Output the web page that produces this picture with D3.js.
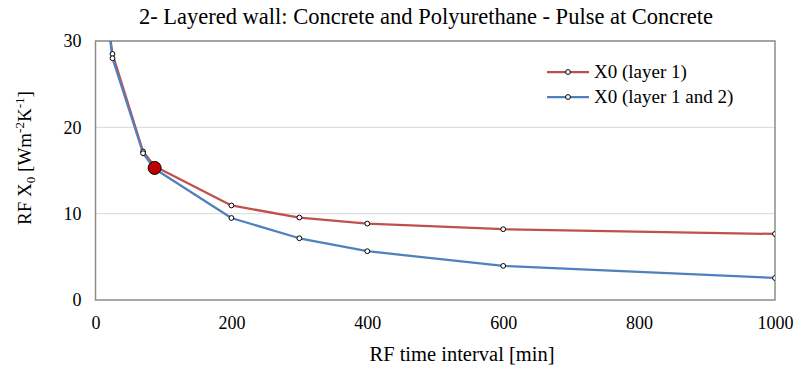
<!DOCTYPE html>
<html><head><meta charset="utf-8">
<script src="https://cdn.jsdelivr.net/npm/d3@7"></script>
<style>body{margin:0;background:#fff}svg{display:block}</style>
</head><body><svg id="c" width="795" height="369" font-family="Liberation Serif, Times New Roman, serif"></svg>
<script>
const title = "2- Layered wall: Concrete and Polyurethane - Pulse at Concrete";
const xLabel = "RF time interval [min]";
const xTicks = [0, 200, 400, 600, 800, 1000];
const yTicks = [0, 10, 20, 30];
const seriesNames = ["X0 (layer 1)", "X0 (layer 1 and 2)"];
const seriesColors = ["#C0504D", "#4F81BD"];
const xLayer1 = [10, 25, 70, 87, 200, 300, 400, 600, 1000];
const yLayer1 = [37, 28.5, 17.2, 15.5, 10.95, 9.55, 8.85, 8.2, 7.65];
const xLayer12 = [10, 25, 70, 87, 200, 300, 400, 600, 1000];
const yLayer12 = [37.5, 28.0, 17.0, 15.2, 9.5, 7.15, 5.65, 3.95, 2.55];
const highlightX = [87];
const highlightY = [15.3];
const FONT = "Liberation Serif, Times New Roman, serif";

const svg = d3.select("#c");
const L = 95.5, R = 775, T = 41, B = 300;
const x = d3.scaleLinear().domain([0, 1000]).range([L, R]);
const y = d3.scaleLinear().domain([0, 30]).range([B, T]);

svg.append("defs").append("clipPath").attr("id","clip").append("rect")
  .attr("x", L).attr("y", T).attr("width", R - L).attr("height", B - T);

svg.append("g").selectAll("line").data(yTicks.filter(d => d > 0)).join("line")
  .attr("x1", L).attr("x2", R).attr("y1", d => y(d)).attr("y2", d => y(d))
  .attr("stroke", "#d9d9d9").attr("stroke-width", 1);

svg.append("rect").attr("x", L).attr("y", T).attr("width", R - L).attr("height", B - T)
  .attr("fill", "none").attr("stroke", "#8c8c8c").attr("stroke-width", 1.5);

const xa = svg.append("g").attr("transform", `translate(0,${B})`)
  .call(d3.axisBottom(x).tickValues(xTicks).tickFormat(d3.format("d")).tickSize(0).tickPadding(16));
xa.select(".domain").remove();
xa.attr("font-family", FONT).attr("font-size", 18);
xa.selectAll("text").attr("fill", "#000");
const ya = svg.append("g").attr("transform", `translate(${L},0)`)
  .call(d3.axisLeft(y).tickValues(yTicks).tickFormat(d3.format("d")).tickSize(0).tickPadding(14));
ya.select(".domain").remove();
ya.attr("font-family", FONT).attr("font-size", 18);
ya.selectAll("text").attr("fill", "#000");

const series = [
  {xs: xLayer1, ys: yLayer1},
  {xs: xLayer12, ys: yLayer12}
];
const line = d3.line().x(d => x(d[0])).y(d => y(d[1]));
const g = svg.append("g").attr("clip-path", "url(#clip)");
series.forEach((s, i) => {
  const pts = s.xs.map((v, k) => [v, s.ys[k]]);
  g.append("path").datum(pts).attr("d", line).attr("fill", "none")
    .attr("stroke", seriesColors[i]).attr("stroke-width", 2.25).attr("stroke-linejoin", "round");
});
series.forEach((s, i) => {
  const pts = s.xs.map((v, k) => [v, s.ys[k]]).filter(d => d[1] <= 30);
  g.selectAll(null).data(pts).join("circle")
    .attr("cx", d => x(d[0])).attr("cy", d => y(d[1])).attr("r", 2.4)
    .attr("fill", "#fff").attr("stroke", "#000").attr("stroke-width", 1);
});
svg.selectAll(null).data(highlightX.map((v, k) => [v, highlightY[k]])).join("circle")
  .attr("cx", d => x(d[0])).attr("cy", d => y(d[1])).attr("r", 6.5)
  .attr("fill", "#C00000").attr("stroke", "#000").attr("stroke-width", 1);

svg.append("text").attr("x", 426).attr("y", 24).attr("text-anchor", "middle")
  .attr("font-family", FONT).attr("font-size", 22.5).text(title);
svg.append("text").attr("x", 462).attr("y", 361).attr("text-anchor", "middle")
  .attr("font-family", FONT).attr("font-size", 20.5).text(xLabel);
const yl = svg.append("text").attr("transform", "translate(31,158) rotate(-90)")
  .attr("text-anchor", "middle").attr("font-family", FONT).attr("font-size", 19);
yl.append("tspan").text("RF X");
yl.append("tspan").attr("font-size", 13).attr("dy", 4).text("0");
yl.append("tspan").attr("dy", -4).text(" [Wm");
yl.append("tspan").attr("font-size", 13).attr("dy", -7).text("-2");
yl.append("tspan").attr("dy", 7).text("K");
yl.append("tspan").attr("font-size", 13).attr("dy", -7).text("-1");
yl.append("tspan").attr("dy", 7).text("]");

const lg = svg.append("g");
seriesNames.forEach((n, i) => {
  const yy = 72 + i * 25;
  lg.append("line").attr("x1", 547).attr("x2", 589).attr("y1", yy).attr("y2", yy)
    .attr("stroke", seriesColors[i]).attr("stroke-width", 2.25);
  lg.append("circle").attr("cx", 568).attr("cy", yy).attr("r", 2.4)
    .attr("fill", "#fff").attr("stroke", "#000").attr("stroke-width", 1);
  lg.append("text").attr("x", 594).attr("y", yy + 6).attr("font-family", FONT).attr("font-size", 19).text(n);
});
</script></body></html>
